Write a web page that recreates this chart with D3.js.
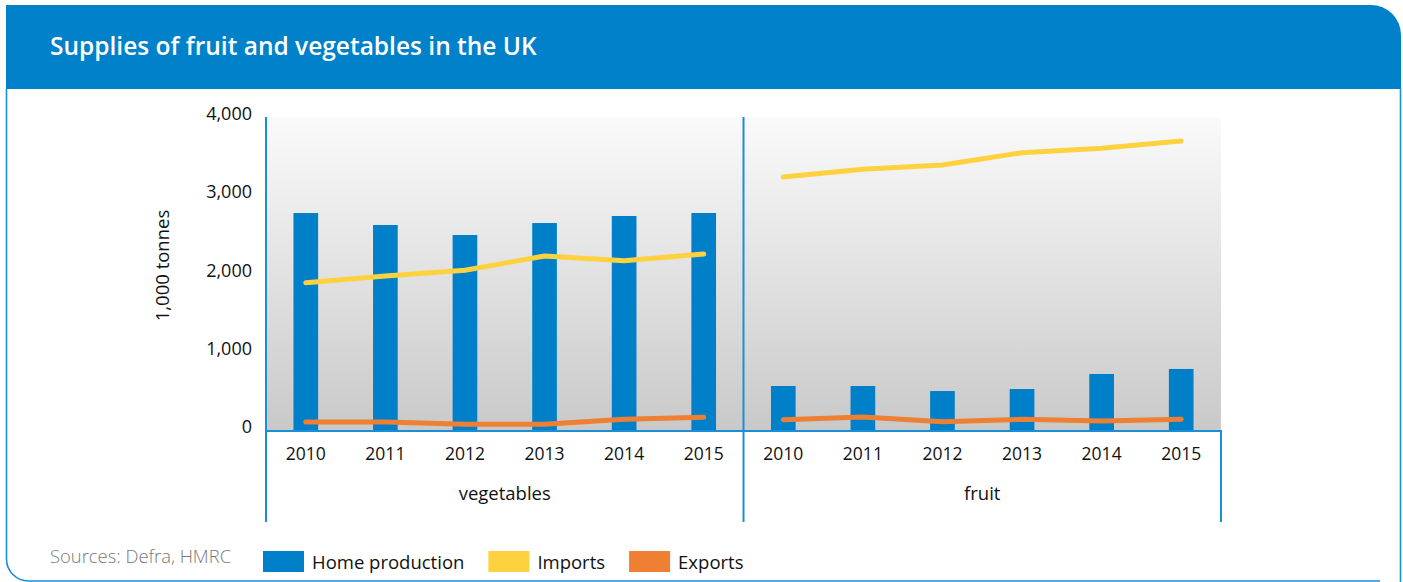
<!DOCTYPE html>
<html>
<head>
<meta charset="utf-8">
<script src="https://cdn.jsdelivr.net/npm/d3@7"></script>
<style>
  html, body { margin: 0; padding: 0; background: #ffffff; }
  svg { display: block; }
  text { font-family: "Open Sans", "Noto Sans", sans-serif; }
</style>
</head>
<body>
<svg id="chart" width="1403" height="582"></svg>
<script>
// Supplies of fruit and vegetables in the UK, thousand tonnes
const groups = ["vegetables", "fruit"];
const years = ["2010", "2011", "2012", "2013", "2014", "2015"];

const homeVegetables = [2773, 2620, 2492, 2645, 2735, 2773];
const importsVegetables = [1882, 1968, 2041, 2224, 2164, 2249];
const exportsVegetables = [102, 102, 73, 75, 137, 162];

const homeFruit = [562, 562, 498, 524, 716, 780];
const importsFruit = [3233, 3331, 3387, 3544, 3600, 3693];
const exportsFruit = [132, 166, 106, 137, 115, 137];

const yTicks = [0, 1000, 2000, 3000, 4000];
const seriesNames = ["Home production", "Imports", "Exports"];
const seriesColors = ["#0080c9", "#fed23f", "#ee7f33"];

const blue = "#0081c9";
const axisBlue = "#1b8ed8";
const plot = { left: 266, right: 1221, top: 117, bottom: 430, boxBottom: 522 };

const svg = d3.select("#chart");

// ---- frame and header ----
const frame = svg.append("g");
frame.append("path")
  .attr("d", `M6,5 H1371 A30,30 0 0 1 1401,35 V89 H6 Z`)
  .attr("fill", blue);
frame.append("path")
  .attr("d", `M6.5,89 V559 A22,22 0 0 0 28.5,581 H1380`)
  .attr("fill", "none").attr("stroke", axisBlue).attr("stroke-width", 1.6);
frame.append("path")
  .attr("d", `M1400.5,89 V582`)
  .attr("fill", "none").attr("stroke", axisBlue).attr("stroke-width", 1.6);
frame.append("text")
  .attr("x", 50).attr("y", 55)
  .attr("fill", "#ffffff")
  .attr("font-size", 24.5).attr("font-weight", 600)
  .text("Supplies of fruit and vegetables in the UK");

// ---- scales ----
const keys = groups.flatMap(g => years.map(y => g + "|" + y));
const x = d3.scaleBand()
  .domain(keys)
  .range([plot.left, plot.right])
  .paddingInner(0.69)
  .paddingOuter(0.345);
const y = d3.scaleLinear().domain([0, 4000]).range([plot.bottom, plot.top]);

// ---- plot background gradient ----
const defs = svg.append("defs");
const grad = defs.append("linearGradient")
  .attr("id", "plotBg").attr("x1", 0).attr("y1", 0).attr("x2", 0).attr("y2", 1);
grad.append("stop").attr("offset", "0%").attr("stop-color", "#fafafa");
grad.append("stop").attr("offset", "100%").attr("stop-color", "#c9c9c9");
svg.append("rect")
  .attr("x", plot.left).attr("y", plot.top)
  .attr("width", plot.right - plot.left).attr("height", plot.bottom - plot.top)
  .attr("fill", "url(#plotBg)");

// ---- data by group ----
const data = {
  vegetables: { home: homeVegetables, imports: importsVegetables, exports: exportsVegetables },
  fruit: { home: homeFruit, imports: importsFruit, exports: exportsFruit }
};

// bars: home production
const barRows = groups.flatMap(g => years.map((yr, i) => ({ key: g + "|" + yr, v: data[g].home[i] })));
svg.append("g").selectAll("rect").data(barRows).join("rect")
  .attr("x", d => x(d.key))
  .attr("width", x.bandwidth())
  .attr("y", d => y(d.v))
  .attr("height", d => y(0) - y(d.v))
  .attr("fill", seriesColors[0]);

// lines: imports and exports, one path per group
const line = d3.line()
  .x(d => x(d.key) + x.bandwidth() / 2)
  .y(d => y(d.v));
const lineSeries = [
  { field: "imports", color: seriesColors[1] },
  { field: "exports", color: seriesColors[2] }
];
const lineG = svg.append("g");
lineSeries.forEach(s => {
  groups.forEach(g => {
    const pts = years.map((yr, i) => ({ key: g + "|" + yr, v: data[g][s.field][i] }));
    lineG.append("path")
      .datum(pts)
      .attr("d", line)
      .attr("fill", "none")
      .attr("stroke", s.color)
      .attr("stroke-width", 5)
      .attr("stroke-linecap", "round")
      .attr("stroke-linejoin", "round");
  });
});

// ---- y axis ----
const yAxis = svg.append("g")
  .attr("transform", `translate(${plot.left},0)`)
  .call(d3.axisLeft(y).tickValues(yTicks).tickSize(0).tickPadding(14).tickFormat(d3.format(",")));
yAxis.select(".domain").remove();
yAxis.selectAll("text")
  .attr("font-size", 18)
  .attr("fill", "#111111")
  .attr("font-family", "\"Open Sans\", sans-serif")
  .attr("dy", "0.15em");

svg.append("text")
  .attr("transform", `translate(169,${(plot.top + plot.bottom) / 2 - 8}) rotate(-90)`)
  .attr("text-anchor", "middle")
  .attr("font-size", 18.5)
  .attr("fill", "#111111")
  .text("1,000 tonnes");

// ---- x axis: years then groups ----
const xAxis = svg.append("g")
  .attr("transform", `translate(0,${plot.bottom})`)
  .call(d3.axisBottom(x).tickSize(0).tickPadding(18).tickFormat(k => k.split("|")[1]));
xAxis.select(".domain").remove();
xAxis.selectAll("text")
  .attr("font-size", 17.5)
  .attr("fill", "#111111")
  .attr("font-family", "\"Open Sans\", sans-serif");

groups.forEach(g => {
  const a = x(g + "|" + years[0]) + x.bandwidth() / 2 - x.step() / 2;
  const b = x(g + "|" + years[years.length - 1]) + x.bandwidth() / 2 + x.step() / 2;
  svg.append("text")
    .attr("x", (a + b) / 2).attr("y", 500)
    .attr("text-anchor", "middle")
    .attr("font-size", 18.5)
    .attr("fill", "#111111")
    .text(g);
});

// axis lines
const axisG = svg.append("g").attr("stroke", axisBlue).attr("stroke-width", 2).attr("fill", "none");
axisG.append("line").attr("x1", plot.left).attr("x2", plot.right).attr("y1", plot.bottom + 1).attr("y2", plot.bottom + 1);
axisG.append("line").attr("x1", plot.left).attr("x2", plot.left).attr("y1", plot.top).attr("y2", plot.boxBottom);
const divider = x(groups[1] + "|" + years[0]) + x.bandwidth() / 2 - x.step() / 2;
axisG.append("line").attr("x1", divider).attr("x2", divider).attr("y1", plot.top).attr("y2", plot.boxBottom);
axisG.append("line").attr("x1", plot.right).attr("x2", plot.right).attr("y1", plot.bottom).attr("y2", plot.boxBottom);

// ---- source note ----
svg.append("text")
  .attr("x", 50).attr("y", 563)
  .attr("font-size", 18.4)
  .attr("font-weight", 300)
  .attr("fill", "#7a7a7a")
  .text("Sources: Defra, HMRC");

// ---- legend ----
const legend = svg.append("g").attr("transform", "translate(263,551)");
let lx = 0;
seriesNames.forEach((name, i) => {
  const item = legend.append("g").attr("transform", `translate(${lx},0)`);
  item.append("rect").attr("width", 41).attr("height", 21).attr("fill", seriesColors[i]);
  const t = item.append("text")
    .attr("x", 49).attr("y", 18)
    .attr("font-size", 18.5)
    .attr("fill", "#111111")
    .text(name);
  lx += 49 + t.node().getComputedTextLength() + 24;
});
</script>
</body>
</html>
